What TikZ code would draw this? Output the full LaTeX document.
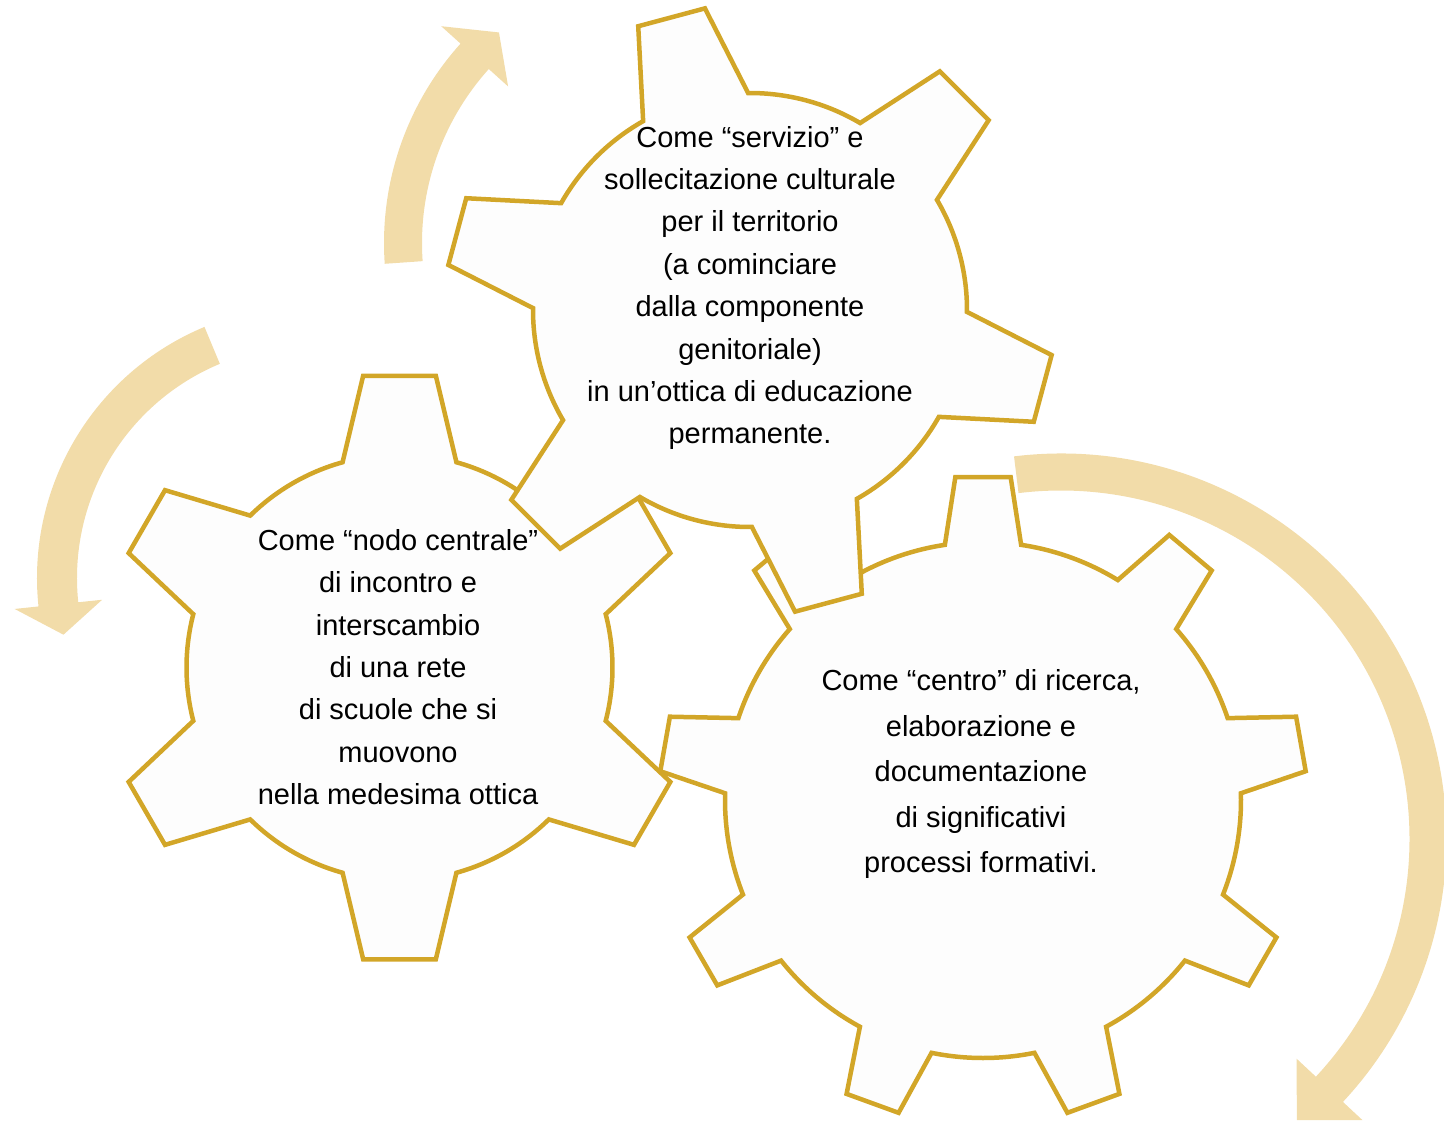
\documentclass[tikz,border=0pt]{standalone}
\usepackage{fontspec}
\setmainfont{Liberation Sans}
\usepackage{xcolor}
\definecolor{gearrim}{HTML}{D2A628}
\definecolor{gearbg}{HTML}{FDFDFD}
\definecolor{arrowtan}{HTML}{F2DCA9}
\usepackage{tikz}
\usetikzlibrary{positioning}

% centre, teeth, root r, tip r, base half-angle, tip half-angle, offset
\newcommand{\gearshape}[7]{%
  \pgfmathsetmacro{\gstep}{360/#2}
  \filldraw[gearpen] ([shift={(#1)}]#7+#5:#3)
    \foreach \k in {1,...,#2}{
      arc[start angle=#7+(\k-1)*\gstep+#5, end angle=#7+\k*\gstep-#5, radius=#3]
      -- ([shift={(#1)}]#7+\k*\gstep-#6:#4)
      -- ([shift={(#1)}]#7+\k*\gstep+#6:#4)
      -- ([shift={(#1)}]#7+\k*\gstep+#5:#3)
    } -- cycle;
}
% centre, mid r, half width, head half width, tail, head, tip
\newcommand{\bentarrow}[7]{%
  \pgfmathsetmacro{\aout}{#2+#3}
  \pgfmathsetmacro{\ain}{#2-#3}
  \pgfmathsetmacro{\hout}{#2+#4}
  \pgfmathsetmacro{\hin}{#2-#4}
  \fill[arrowfill] ([shift={(#1)}]#5:\aout)
    arc[start angle=#5, end angle=#6, radius=\aout]
    -- ([shift={(#1)}]#6:\hout) -- ([shift={(#1)}]#7:#2)
    -- ([shift={(#1)}]#6:\hin) -- ([shift={(#1)}]#6:\ain)
    arc[start angle=#6, end angle=#5, radius=\ain] -- cycle;
}

\begin{document}
\begin{tikzpicture}[x=0.02cm,y=-0.02cm,
  gearpen/.style={draw=gearrim,fill=gearbg,line width=0.09cm,line join=miter},
  arrowfill/.style={fill=arrowtan},
  geartext/.style={align=center,inner sep=0pt,
    font=\fontsize{16.5pt}{24.1pt}\selectfont}]
\useasboundingbox (0,0) rectangle (1444,1130);
\clip (0,0) rectangle (1444,1130);

\bentarrow{682,243}{279}{19}{45}{176}{222}{229}
\bentarrow{309,578}{252}{20}{44}{-112.6}{-186}{-193}
\bentarrow{1061,839}{367}{18.5}{45}{-97}{43}{50}

\gearshape{399.5,667.5}{6}{213}{294}{15.5}{7.1}{30}
\gearshape{983,800}{9}{258}{324}{8.5}{4.9}{-130}
\gearshape{750,310}{6}{217}{305}{14.5}{6.5}{-165}

\node[geartext] (servizio) at (750,288) {Come “servizio” e\\sollecitazione culturale\\per il territorio\\(a cominciare\\dalla componente\\genitoriale)\\in un’ottica di educazione\\permanente.};
\node[geartext] (nodo) at (398,667) {Come “nodo centrale”\\di incontro e\\interscambio\\di una rete\\di scuole che si\\muovono\\nella medesima ottica};
\node[geartext,font=\fontsize{16.5pt}{25.9pt}\selectfont] (centro) at (981,774) {Come “centro” di ricerca,\\elaborazione e\\documentazione\\di significativi\\processi formativi.};
\end{tikzpicture}
\end{document}
